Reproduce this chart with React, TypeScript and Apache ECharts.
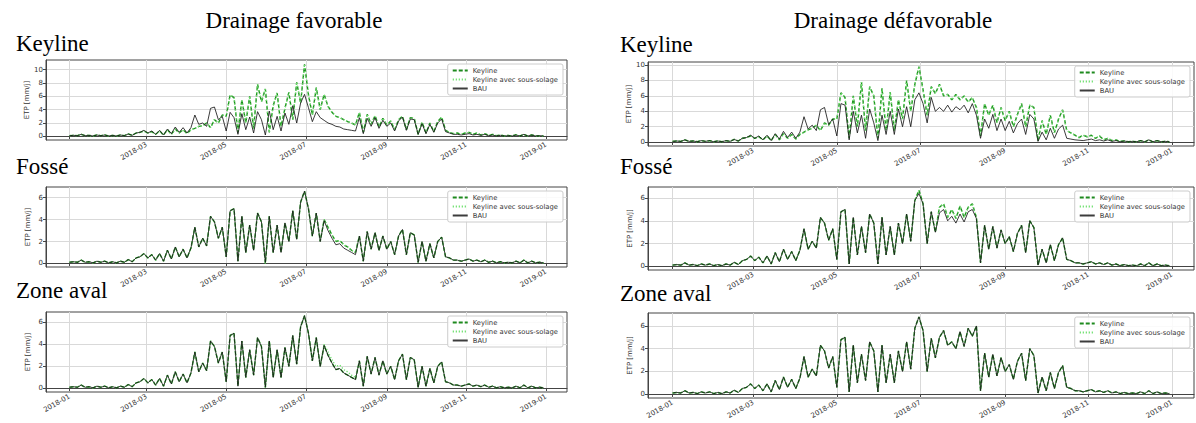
import React, { useEffect, useRef } from "react";
import * as echarts from "echarts";

const DAY = 86400000;
const START = Date.UTC(2018, 0, 1);
const STEP_DAYS = 3;
const SERIES_NAMES = ["Keyline", "Keyline avec sous-solage", "BAU"];
const TICK_LABELS = ["2018-01", "2018-03", "2018-05", "2018-07", "2018-09", "2018-11", "2019-01"];
const Y_TICKS_KEYLINE = [0, 2, 4, 6, 8, 10];
const Y_TICKS_OTHER = [0, 2, 4, 6];
const COLUMN_TITLES = ["Drainage favorable", "Drainage défavorable"];
const ROW_TITLES = ["Keyline", "Fossé", "Zone aval"];

// ETP [mm/j], one value every 3 days from 2018-01-01
const KL_BAU_L = [
  0.1, 0.15, 0.1, 0.3, 0.1, 0.15, 0.05, 0.2, 0.1, 0.2,
  0.05, 0.15, 0.05, 0.2, 0.1, 0.35, 0.15, 0.5, 0.6, 0.9,
  0.5, 0.8, 0.3, 0.9, 0.2, 1.1, 0.4, 1.4, 0.6, 1.3,
  0.5, 1.3,
  3.2, 1.8, 2.0, 1.5, 4.2, 4.4, 2.5, 3.0,
  0.8, 3.6, 2.8, 0.3, 3.4, 1.0, 2.9, 0.5, 3.7, 2.5,
  0.2, 3.8, 1.0, 3.0, 0.8, 3.5, 1.8, 4.6, 2.0, 5.0,
  6.3, 4.3, 2.2, 3.7, 2.8, 2.4, 2.0, 1.8, 1.5, 1.4,
  1.1, 1.0, 0.9, 0.8, 2.8, 0.4, 2.7, 1.5, 2.8, 1.2,
  2.4, 1.5, 2.0, 0.8, 2.3, 2.9, 0.9, 2.6, 2.5, 0.3,
  1.9, 0.4, 1.8, 0.6, 2.0, 2.6, 0.7, 0.5, 0.3, 0.3,
  0.2, 0.3, 0.4, 0.2, 0.3, 0.15, 0.3, 0.1, 0.2, 0.05,
  0.15, 0.05, 0.1, 0.05, 0.2, 0.05, 0.3, 0.05, 0.2, 0.05, 0.1, 0.05,
];
const KL_KEY_L = [
  0.1, 0.15, 0.1, 0.3, 0.1, 0.15, 0.05, 0.2, 0.1, 0.2,
  0.05, 0.15, 0.05, 0.2, 0.1, 0.35, 0.15, 0.5, 0.6, 0.8,
  0.5, 0.7, 0.3, 0.8, 0.2, 1.0, 0.3, 1.1, 0.5, 1.0,
  0.4, 1.0,
  1.2, 1.5, 1.6, 2.0, 1.3, 2.5, 2.0, 3.2,
  3.0, 6.2, 5.8, 0.6, 5.5, 2.0, 6.0, 1.2, 7.8, 5.2,
  7.1, 0.6, 4.6, 6.5, 1.5, 4.2, 6.6, 2.5, 8.1, 5.0,
  10.8, 6.2, 3.2, 7.3, 4.0, 6.3, 4.5, 3.6, 3.0, 2.8,
  2.5, 2.2, 2.0, 1.7, 3.6, 0.6, 3.3, 1.8, 3.1, 1.4,
  2.7, 1.7, 2.3, 1.0, 2.5, 3.0, 1.0, 2.8, 2.7, 0.3,
  2.1, 0.5, 2.0, 0.7, 2.2, 2.9, 0.9, 0.6, 0.4, 0.5,
  0.3, 0.5, 0.6, 0.3, 0.5, 0.2, 0.4, 0.15, 0.3, 0.1,
  0.2, 0.05, 0.15, 0.05, 0.25, 0.05, 0.3, 0.05, 0.2, 0.05, 0.1, 0.05,
];
const FO_BAU_L = [
  0.1, 0.15, 0.1, 0.3, 0.1, 0.15, 0.05, 0.2, 0.1, 0.2,
  0.05, 0.15, 0.05, 0.2, 0.1, 0.35, 0.15, 0.5, 0.6, 0.9,
  0.5, 0.8, 0.3, 0.9, 0.2, 1.2, 0.4, 1.5, 0.6, 1.3,
  0.5, 1.4,
  3.3, 1.5, 2.3, 1.6, 4.3, 3.8, 2.3, 3.3,
  0.6, 4.8, 5.0, 0.2, 4.3, 1.0, 3.5, 1.2, 4.6, 3.8,
  0.1, 4.3, 1.0, 3.5, 1.0, 3.7, 2.0, 4.8, 2.2, 5.6,
  6.6, 5.0, 2.5, 4.6, 2.0, 3.9, 3.0, 2.3, 1.7, 1.8,
  1.4, 1.2, 1.0, 0.8, 2.5, 0.2, 2.9, 1.3, 2.8, 1.2,
  2.5, 1.3, 2.0, 0.8, 2.5, 3.1, 0.8, 2.8, 2.6, 0.1,
  2.0, 0.2, 1.8, 0.5, 2.0, 2.4, 0.6, 0.5, 0.3, 0.3,
  0.2, 0.3, 0.4, 0.2, 0.3, 0.15, 0.3, 0.1, 0.2, 0.05,
  0.15, 0.05, 0.1, 0.05, 0.2, 0.05, 0.3, 0.05, 0.2, 0.05, 0.1, 0.05,
];
const FO_KEY_L = [
  0.1, 0.15, 0.1, 0.3, 0.1, 0.15, 0.05, 0.2, 0.1, 0.2,
  0.05, 0.15, 0.05, 0.2, 0.1, 0.35, 0.15, 0.5, 0.6, 0.9,
  0.5, 0.8, 0.3, 0.9, 0.2, 1.2, 0.4, 1.5, 0.6, 1.3,
  0.5, 1.4,
  3.3, 1.5, 2.3, 1.6, 4.3, 3.8, 2.3, 3.3,
  0.6, 4.8, 5.0, 0.2, 4.3, 1.0, 3.5, 1.2, 4.6, 3.8,
  0.0, 4.3, 1.0, 3.5, 1.0, 3.7, 2.0, 4.8, 2.2, 5.6,
  6.6, 5.0, 2.5, 4.6, 2.0, 4.0, 3.3, 2.6, 2.0, 2.1,
  1.7, 1.5, 1.2, 1.0, 2.5, 0.2, 2.9, 1.3, 2.8, 1.2,
  2.5, 1.3, 2.0, 0.8, 2.5, 3.1, 0.8, 2.8, 2.6, 0.1,
  2.0, 0.2, 1.8, 0.5, 2.0, 2.4, 0.6, 0.5, 0.3, 0.3,
  0.2, 0.3, 0.4, 0.2, 0.3, 0.15, 0.3, 0.1, 0.2, 0.05,
  0.15, 0.05, 0.1, 0.05, 0.2, 0.05, 0.3, 0.05, 0.2, 0.05, 0.1, 0.05,
];
const KL_BAU_R = [
  0.1, 0.15, 0.1, 0.3, 0.1, 0.15, 0.05, 0.2, 0.1, 0.2,
  0.05, 0.15, 0.05, 0.2, 0.1, 0.35, 0.15, 0.5, 0.6, 0.9,
  0.5, 0.8, 0.3, 0.9, 0.2, 1.1, 0.4, 1.4, 0.6, 1.3,
  0.5, 1.3,
  3.3, 1.7, 2.2, 1.5, 4.2, 4.5, 2.3, 3.0,
  0.8, 5.0, 4.8, 0.3, 4.0, 1.2, 3.5, 0.5, 4.3, 2.5,
  0.2, 3.5, 1.0, 4.0, 1.0, 4.3, 2.0, 4.6, 2.0, 5.5,
  6.4, 5.0, 2.5, 5.8, 4.0, 4.5, 4.0, 4.8, 3.9, 4.6,
  4.2, 4.8, 3.8, 5.0, 3.5, 0.5, 3.0, 1.8, 3.6, 1.5,
  3.0, 1.5, 2.7, 1.2, 2.4, 3.0, 1.0, 3.6, 3.0, 0.1,
  1.3, 0.3, 1.8, 0.5, 1.7, 2.2, 0.5, 0.4, 0.3, 0.25,
  0.2, 0.3, 0.4, 0.2, 0.3, 0.15, 0.3, 0.1, 0.2, 0.05,
  0.15, 0.05, 0.1, 0.05, 0.2, 0.05, 0.3, 0.05, 0.2, 0.05, 0.1, 0.05,
];
const KL_KEY_R = [
  0.1, 0.15, 0.1, 0.3, 0.1, 0.15, 0.05, 0.2, 0.1, 0.2,
  0.05, 0.15, 0.05, 0.2, 0.1, 0.35, 0.15, 0.5, 0.6, 0.8,
  0.5, 0.7, 0.3, 0.8, 0.2, 1.0, 0.3, 1.1, 0.5, 1.0,
  0.4, 1.0,
  1.3, 1.6, 1.8, 2.2, 1.5, 2.5, 2.2, 3.0,
  3.0, 6.4, 5.8, 0.5, 6.0, 2.0, 7.8, 1.5, 7.2, 6.0,
  0.5, 7.0, 1.5, 6.5, 1.5, 5.5, 3.0, 8.0, 4.0, 7.5,
  9.8, 6.8, 3.5, 7.2, 6.3, 7.5, 6.0, 6.2, 5.5, 6.2,
  5.5, 6.0, 5.2, 5.8, 4.5, 0.8, 5.0, 3.5, 4.8, 2.5,
  4.5, 2.8, 4.0, 2.0, 3.6, 5.0, 2.0, 4.8, 4.5, 0.2,
  2.8, 1.0, 3.5, 1.2, 3.0, 4.2, 1.5, 1.2, 0.9, 0.6,
  0.9, 0.7, 0.9, 0.5, 0.8, 0.3, 0.5, 0.2, 0.3, 0.1,
  0.15, 0.05, 0.1, 0.05, 0.2, 0.05, 0.3, 0.05, 0.2, 0.05, 0.1, 0.05,
];
const FO_BAU_R = [
  0.1, 0.15, 0.1, 0.3, 0.1, 0.15, 0.05, 0.2, 0.1, 0.2,
  0.05, 0.15, 0.05, 0.2, 0.1, 0.35, 0.15, 0.5, 0.6, 0.9,
  0.5, 0.8, 0.3, 0.9, 0.2, 1.2, 0.4, 1.5, 0.6, 1.3,
  0.5, 1.4,
  3.3, 1.5, 2.2, 1.6, 4.3, 3.8, 2.3, 3.3,
  0.6, 4.8, 5.0, 0.2, 4.3, 1.0, 3.5, 1.2, 4.6, 3.8,
  0.2, 4.3, 1.0, 3.5, 1.0, 3.8, 2.0, 4.6, 2.2, 5.8,
  6.4, 5.5, 2.0, 4.8, 3.0, 4.7, 5.0, 4.0, 4.4, 3.8,
  4.6, 3.9, 4.8, 5.0, 4.2, 0.3, 3.6, 1.5, 3.5, 1.6,
  3.2, 2.0, 2.6, 1.3, 2.9, 3.6, 1.2, 4.0, 3.4, 0.1,
  1.5, 0.3, 1.9, 0.5, 1.9, 2.5, 0.6, 0.5, 0.3, 0.3,
  0.2, 0.3, 0.4, 0.2, 0.3, 0.15, 0.3, 0.1, 0.2, 0.05,
  0.15, 0.05, 0.1, 0.05, 0.2, 0.05, 0.3, 0.05, 0.2, 0.05, 0.1, 0.05,
];
const FO_KEY_R = [
  0.1, 0.15, 0.1, 0.3, 0.1, 0.15, 0.05, 0.2, 0.1, 0.2,
  0.05, 0.15, 0.05, 0.2, 0.1, 0.35, 0.15, 0.5, 0.6, 0.9,
  0.5, 0.8, 0.3, 0.9, 0.2, 1.2, 0.4, 1.5, 0.6, 1.3,
  0.5, 1.4,
  3.3, 1.5, 2.2, 1.6, 4.3, 3.8, 2.3, 3.3,
  0.6, 4.8, 5.0, 0.2, 4.3, 1.0, 3.5, 1.2, 4.6, 3.8,
  0.2, 4.3, 1.0, 3.5, 1.0, 3.8, 2.0, 4.6, 2.2, 5.8,
  6.7, 5.5, 2.0, 4.8, 3.0, 5.2, 5.5, 4.3, 5.0, 4.2,
  5.3, 4.3, 5.2, 5.5, 4.3, 0.3, 3.6, 1.5, 3.5, 1.6,
  3.2, 2.0, 2.6, 1.3, 2.9, 3.6, 1.2, 4.0, 3.4, 0.1,
  1.5, 0.3, 1.9, 0.5, 1.9, 2.5, 0.6, 0.5, 0.3, 0.3,
  0.2, 0.3, 0.4, 0.2, 0.3, 0.15, 0.3, 0.1, 0.2, 0.05,
  0.15, 0.05, 0.1, 0.05, 0.2, 0.05, 0.3, 0.05, 0.2, 0.05, 0.1, 0.05,
];
const ZA_BAU_R = [
  0.1, 0.15, 0.1, 0.3, 0.1, 0.15, 0.05, 0.2, 0.1, 0.2,
  0.05, 0.15, 0.05, 0.2, 0.1, 0.35, 0.15, 0.5, 0.6, 0.9,
  0.5, 0.8, 0.3, 0.9, 0.2, 1.2, 0.4, 1.5, 0.6, 1.3,
  0.5, 1.4,
  3.3, 1.5, 2.2, 1.6, 4.3, 3.8, 2.3, 3.3,
  0.6, 4.8, 5.0, 0.2, 4.3, 1.0, 3.5, 1.2, 4.6, 3.8,
  0.2, 4.3, 1.0, 3.5, 1.0, 3.8, 2.0, 4.6, 2.2, 5.8,
  6.8, 5.6, 2.0, 4.9, 3.2, 5.0, 5.6, 4.3, 4.6, 4.0,
  5.5, 4.2, 5.8, 5.1, 6.0, 0.3, 3.6, 1.5, 3.5, 1.6,
  3.2, 2.0, 2.6, 1.3, 2.9, 3.6, 1.2, 4.0, 3.4, 0.1,
  1.5, 0.3, 1.9, 0.5, 1.9, 2.5, 0.6, 0.5, 0.3, 0.3,
  0.2, 0.3, 0.4, 0.2, 0.3, 0.15, 0.3, 0.1, 0.2, 0.05,
  0.15, 0.05, 0.1, 0.05, 0.2, 0.05, 0.3, 0.05, 0.2, 0.05, 0.1, 0.05,
];

const TICK_TS = TICK_LABELS.map((s) => Date.UTC(+s.slice(0, 4), +s.slice(5, 7) - 1, 1));
const X_MIN = START - 18 * DAY;
const X_MAX = Date.UTC(2019, 0, 17);

const toPairs = (arr: number[]) => arr.map((v, i) => [START + i * STEP_DAYS * DAY, v]);

const PANELS = [
  { left: 46, top: 60, width: 521, height: 80, yMin: -0.55, yMax: 11.45, yTicks: Y_TICKS_KEYLINE, firstLabel: false, data: [KL_KEY_L, KL_KEY_L, KL_BAU_L] },
  { left: 46, top: 187, width: 521, height: 80, yMin: -0.33, yMax: 6.98, yTicks: Y_TICKS_OTHER, firstLabel: false, data: [FO_KEY_L, FO_KEY_L, FO_BAU_L] },
  { left: 46, top: 312, width: 521, height: 80, yMin: -0.33, yMax: 6.93, yTicks: Y_TICKS_OTHER, firstLabel: true, data: [FO_BAU_L, FO_KEY_L, FO_BAU_L] },
  { left: 648, top: 62, width: 546, height: 84, yMin: -0.5, yMax: 10.4, yTicks: Y_TICKS_KEYLINE, firstLabel: false, data: [KL_KEY_R, KL_KEY_R, KL_BAU_R] },
  { left: 648, top: 187, width: 546, height: 83, yMin: -0.33, yMax: 6.98, yTicks: Y_TICKS_OTHER, firstLabel: false, data: [FO_KEY_R, FO_KEY_R, FO_BAU_R] },
  { left: 648, top: 313, width: 546, height: 85, yMin: -0.34, yMax: 7.14, yTicks: Y_TICKS_OTHER, firstLabel: true, data: [ZA_BAU_R, ZA_BAU_R, ZA_BAU_R] },
];

const SERIES_STYLES = [
  { color: "#1e8a1e", width: 1.4, type: [4, 2] as any, opacity: 1 },
  { color: "#6fe06f", width: 1.4, type: [1.2, 1.8] as any, opacity: 1 },
  { color: "#1a1a1a", width: 1, type: "solid" as any, opacity: 0.85 },
];

const AXIS_FONT = "DejaVu Sans";
const TITLE_FONT = "Liberation Serif";

function buildOption() {
  const grids: any[] = [];
  const xAxes: any[] = [];
  const yAxes: any[] = [];
  const legends: any[] = [];
  const series: any[] = [];
  PANELS.forEach((p, k) => {
    grids.push({ left: p.left, top: p.top, width: p.width, height: p.height, show: true, borderColor: "#444", borderWidth: 1, backgroundColor: "transparent" });
    xAxes.push({
      type: "value", gridIndex: k, min: X_MIN, max: X_MAX,
      axisLine: { show: true, lineStyle: { color: "#444", width: 1 } },
      axisTick: { show: true, length: 3, customValues: TICK_TS, lineStyle: { color: "#444" } },
      axisLabel: {
        customValues: p.firstLabel ? TICK_TS : TICK_TS.slice(1),
        formatter: (v: number) => { const i = TICK_TS.indexOf(v); return i >= 0 ? TICK_LABELS[i] : ""; },
        rotate: 30, fontSize: 7, fontFamily: AXIS_FONT, color: "#333", margin: 4,
      },
      splitLine: { show: true, lineStyle: { color: "#d9d9d9", width: 1 } },
    });
    yAxes.push({
      type: "value", gridIndex: k, min: p.yMin, max: p.yMax,
      name: "ETP [mm/j]", nameLocation: "middle", nameGap: 15, nameRotate: 90,
      nameTextStyle: { fontSize: 7, fontFamily: AXIS_FONT, color: "#333" },
      axisLine: { show: true, lineStyle: { color: "#444" } },
      axisTick: { show: true, length: 3, customValues: p.yTicks, lineStyle: { color: "#444" } },
      axisLabel: { customValues: p.yTicks, fontSize: 7, fontFamily: AXIS_FONT, color: "#333", margin: 3 },
      splitLine: { show: true, lineStyle: { color: "#d9d9d9", width: 1 } },
    });
    legends.push({
      data: SERIES_NAMES, orient: "vertical", right: 1196 - (p.left + p.width) + 4, top: p.top + 4,
      itemWidth: 15, itemHeight: 8, itemGap: 2, padding: [3, 5, 3, 4],
      backgroundColor: "rgba(255,255,255,0.85)", borderColor: "#cccccc", borderWidth: 1, borderRadius: 2,
      textStyle: { fontSize: 6.8, fontFamily: AXIS_FONT, color: "#333" },
      itemStyle: { opacity: 0 }, selectedMode: false,
    });
    SERIES_NAMES.forEach((name, s) => {
      const st = SERIES_STYLES[s];
      series.push({
        name, type: "line", xAxisIndex: k, yAxisIndex: k, data: toPairs(p.data[s]),
        symbol: "none", showSymbol: false, silent: true, z: 2 + s,
        itemStyle: { color: st.color },
        lineStyle: { color: st.color, width: st.width, type: st.type, opacity: st.opacity },
      });
    });
  });

  const graphics: any[] = [];
  const colCenters = [294, 893];
  const rowX = [16, 620];
  const rowY = [[43, 166, 290], [44, 166, 293]];
  COLUMN_TITLES.forEach((t, c) => {
    graphics.push({ type: "text", x: colCenters[c], y: 20, style: { text: t, font: `23px "${TITLE_FONT}"`, fill: "#000", align: "center", verticalAlign: "middle" } });
    ROW_TITLES.forEach((r, j) => {
      graphics.push({ type: "text", x: rowX[c], y: rowY[c][j], style: { text: r, font: `23px "${TITLE_FONT}"`, fill: "#000", align: "left", verticalAlign: "middle" } });
    });
  });

  return {
    animation: false,
    backgroundColor: "#fff",
    grid: grids, xAxis: xAxes, yAxis: yAxes, legend: legends, series, graphic: graphics,
  };
}

export default function App() {
  const ref = useRef<HTMLDivElement>(null);
  useEffect(() => {
    if (!ref.current) return;
    const chart = echarts.init(ref.current, null, { renderer: "svg" });
    chart.setOption(buildOption() as any);
    return () => chart.dispose();
  }, []);
  return <div ref={ref} style={{ position: "absolute", left: 0, top: 0, width: 1196, height: 423 }} />;
}
